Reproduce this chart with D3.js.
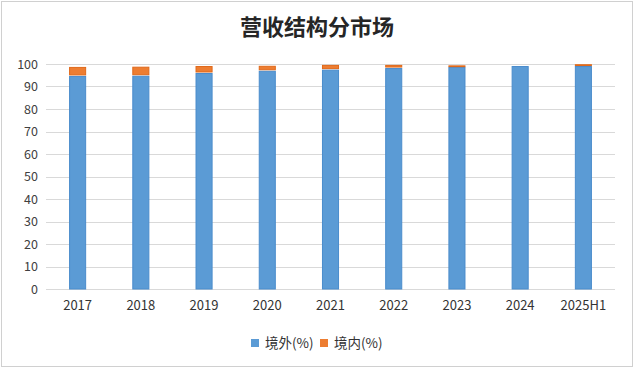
<!DOCTYPE html>
<html>
<head>
<meta charset="utf-8">
<script src="https://cdn.jsdelivr.net/npm/d3@7"></script>
<style>
body { margin: 0; background: #fff; }
text { font-family: "Noto Sans CJK SC", "Noto Sans", sans-serif; }
</style>
</head>
<body>
<div id="chart"></div>
<script>
// data
var years = ["2017", "2018", "2019", "2020", "2021", "2022", "2023", "2024", "2025H1"];
var overseas = [94.7, 94.8, 96.0, 97.0, 97.5, 98.2, 98.7, 99.1, 99.1];
var domestic = [4.0, 4.0, 3.1, 2.2, 2.1, 1.4, 0.7, 0, 0.8];
var yTicks = [0, 10, 20, 30, 40, 50, 60, 70, 80, 90, 100];
var seriesNames = ["境外(%)", "境内(%)"];
var colors = ["#5b9bd5", "#ed7d31"];
var strokes = ["#4a8ccc", "#e0691a"];

var svgWidth = 634;
var svgHeight = 368;
var margin = { top: 64, right: 19, bottom: 79, left: 46 };
var width = svgWidth - margin.left - margin.right;
var height = svgHeight - margin.top - margin.bottom;

var svg = d3.select("#chart")
    .append("svg")
    .attr("width", svgWidth)
    .attr("height", svgHeight);

// outer border
svg.append("rect")
    .attr("x", 1.5).attr("y", 1.5)
    .attr("width", svgWidth - 3).attr("height", svgHeight - 3)
    .attr("fill", "#fff")
    .attr("stroke", "#d0d0d0");

svg.append("text")
    .attr("x", 317)
    .attr("y", 35)
    .attr("text-anchor", "middle")
    .attr("font-size", 22)
    .attr("font-weight", 600)
    .attr("fill", "#262626")
    .text("营收结构分市场");

var chartGroup = svg.append("g")
    .attr("transform", `translate(${margin.left}, ${margin.top})`);

var x = d3.scaleBand()
    .domain(years)
    .range([0, width])
    .paddingInner(0.73)
    .paddingOuter(0.365);

var y = d3.scaleLinear()
    .domain([0, 100])
    .range([height, 0]);

// gridlines
chartGroup.append("g")
    .selectAll("line")
    .data(yTicks)
    .enter()
    .append("line")
    .attr("x1", 0)
    .attr("x2", width)
    .attr("y1", d => Math.round(y(d)) + 0.5)
    .attr("y2", d => Math.round(y(d)) + 0.5)
    .attr("stroke", "#d9d9d9");

// y axis labels
var leftAxis = d3.axisLeft(y).tickValues(yTicks).tickSize(0).tickPadding(8);
chartGroup.append("g")
    .call(leftAxis)
    .call(g => g.select(".domain").remove())
    .selectAll("text")
    .attr("font-size", 12.5)
    .attr("fill", "#404040")
    .style("font-family", "'Noto Sans CJK SC', sans-serif");

// x axis labels
var bottomAxis = d3.axisBottom(x).tickSize(0).tickPadding(12);
chartGroup.append("g")
    .attr("transform", `translate(0, ${height})`)
    .call(bottomAxis)
    .call(g => g.select(".domain").remove())
    .selectAll("text")
    .attr("font-size", 13)
    .attr("fill", "#333")
    .style("font-family", "'Noto Sans CJK SC', sans-serif");

// stacked bars
var stackData = years.map(function(yr, i) {
    return { year: yr, a: overseas[i], b: domestic[i] };
});
var stacked = d3.stack().keys(["a", "b"])(stackData);

stacked.forEach(function(layer, k) {
    chartGroup.append("g")
        .selectAll("rect")
        .data(layer.filter(d => d[1] - d[0] > 0))
        .enter()
        .append("rect")
        .attr("x", d => x(d.data.year) + 0.5)
        .attr("width", x.bandwidth() - 1)
        .attr("y", d => y(d[1]) + 0.5)
        .attr("height", d => Math.max(0.8, y(d[0]) - y(d[1]) - (k === 1 ? 1.5 : 0.5)))
        .attr("fill", colors[k])
        .attr("stroke", strokes[k])
        .attr("stroke-width", 1);
});

// legend
var legendX = [251, 320];
seriesNames.forEach(function(name, i) {
    var lg = svg.append("g").attr("transform", `translate(${legendX[i]}, 343)`);
    lg.append("rect")
        .attr("x", 0).attr("y", -4)
        .attr("width", 8).attr("height", 8)
        .attr("fill", colors[i]);
    lg.append("text")
        .attr("x", 14)
        .attr("y", 0)
        .attr("dy", "0.35em")
        .attr("font-size", 13.5)
        .attr("fill", "#333")
        .text(name);
});
</script>
</body>
</html>
